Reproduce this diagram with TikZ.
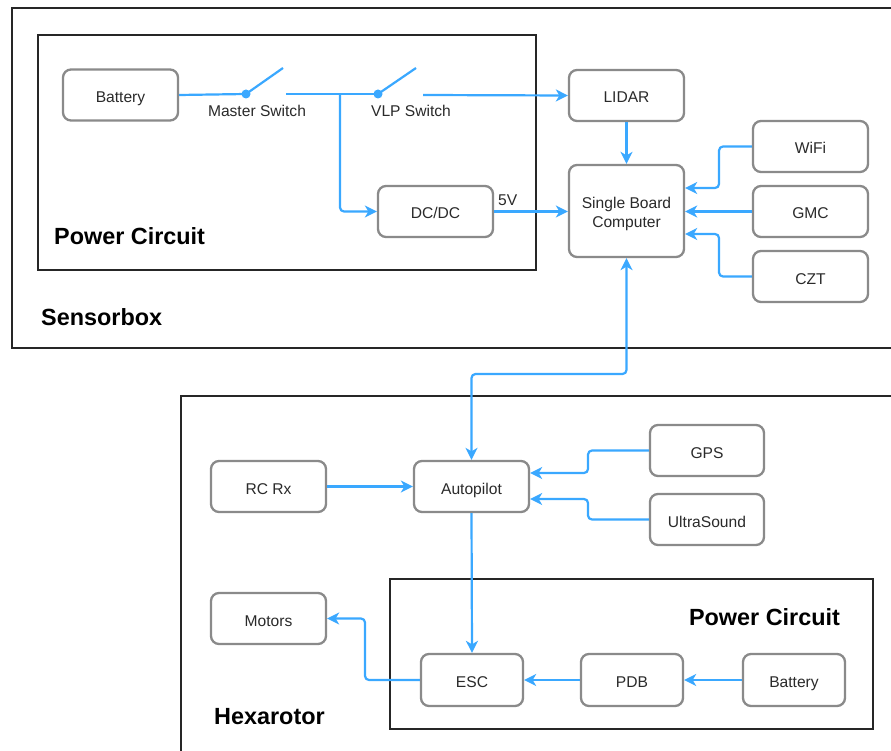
\documentclass[tikz,border=0pt]{standalone}
\usepackage{fontspec}
\setmainfont{Liberation Sans}
\usetikzlibrary{arrows.meta}
\definecolor{wire}{HTML}{3AA8FF}
\definecolor{boxedge}{HTML}{8A8A8A}
\definecolor{txt}{HTML}{2A2A2A}
\begin{document}
\begin{tikzpicture}[x=1pt,y=-1pt,
  box/.style={draw=boxedge,line width=2.3pt,rounded corners=8pt,fill=white,
    minimum width=115pt,minimum height=51pt,inner sep=0pt,align=center,
    font=\fontsize{15.6}{19}\selectfont,text=txt,text height=15pt,text depth=0pt},
  twoline/.style={text height=,text depth=},
  container/.style={draw=black!85,line width=1.3pt},
  title/.style={font=\fontsize{23.4}{26}\selectfont\bfseries,anchor=west,inner sep=0pt,text=black},
  lbl/.style={font=\fontsize{15.6}{19}\selectfont,text=txt,inner sep=0pt},
  wirestyle/.style={draw=wire,line width=2.2pt,rounded corners=4pt},
  arr/.style={wirestyle,-{Stealth[length=12pt,width=12pt,inset=3.5pt]}},
  biarr/.style={wirestyle,{Stealth[length=12pt,width=12pt,inset=3.5pt]}-{Stealth[length=12pt,width=12pt,inset=3.5pt]}}
]
\useasboundingbox (0,0) rectangle (891,751);
\clip (0,0) rectangle (891,751);
\fill[white] (0,0) rectangle (891,751);

% containers
\draw[container] (12,8) rectangle (905,348);
\draw[container] (38,35) rectangle (536,270);
\draw[container] (181,396) rectangle (905,770);
\draw[container] (390,579) rectangle (873,729);

\node[title] (tsb) at (41,317) {Sensorbox};
\node[title] (tpc1) at (54,236) {Power Circuit};
\node[title] (thx) at (214,717) {Hexarotor};
\node[title,anchor=center] (tpc2) at (764.5,617) {Power Circuit};

% sensorbox nodes
\node[box] (bat1) at (120.5,95) {Battery};
\node[box] (lidar) at (626.5,95.5) {LIDAR};
\node[box] (dcdc) at (435.5,211.5) {DC/DC};
\node[box,twoline,minimum height=92pt] (sbc) at (626.5,211) {\rule{0pt}{17.5pt}Single Board\\Computer};
\node[box] (wifi) at (810.5,146.5) {WiFi};
\node[box] (gmc) at (810.5,211.5) {GMC};
\node[box] (czt) at (810.5,276.5) {CZT};

% switches
\coordinate (msa) at (246,94);
\coordinate (msb) at (283,68);
\coordinate (msc) at (286,94);
\coordinate (jn) at (340,94);
\coordinate (vpa) at (378,94);
\coordinate (vpb) at (416,68);
\coordinate (vpc) at (423,95);
\node[lbl] (mslbl) at (257,111) {Master Switch};
\node[lbl] (vplbl) at (411,111) {VLP Switch};

\draw[wirestyle] (bat1.east) -- (msa);
\draw[wirestyle] (msa) -- (msb);
\fill[wire] (msa) circle (4.5pt);
\draw[wirestyle] (msc) -- (vpa);
\draw[wirestyle] (vpa) -- (vpb);
\fill[wire] (vpa) circle (4.5pt);
\draw[arr] (vpc) -- (lidar.west);
\draw[arr] (jn) |- (dcdc.west);
\draw[arr] (dcdc.east) -- (sbc.west |- dcdc.east);
\node[lbl,anchor=west] (v5) at (498,200) {5V};
\draw[arr] (lidar.south) -- (sbc.north);
\draw[arr] (wifi.west) -- (719,146.5) |- (sbc.east |- 0,188);
\draw[arr] (gmc.west) -- (sbc.east |- gmc.west);
\draw[arr] (czt.west) -- (719,276.5) |- (sbc.east |- 0,234);

% hexarotor nodes
\node[box] (rc) at (268.5,486.5) {RC Rx};
\node[box] (ap) at (471.5,486.5) {Autopilot};
\node[box,minimum width=114pt] (gps) at (707,450.5) {GPS};
\node[box,minimum width=114pt] (us) at (707,519.5) {UltraSound};
\node[box] (mot) at (268.5,618.5) {Motors};
\node[box,minimum width=102pt,minimum height=52pt] (esc) at (472,680) {ESC};
\node[box,minimum width=102pt,minimum height=52pt] (pdb) at (632,680) {PDB};
\node[box,minimum width=102pt,minimum height=52pt] (bat2) at (794,680) {Battery};

\draw[biarr] (sbc.south) -- (626.5,374) -| (ap.north);
\draw[arr] (rc.east) -- (ap.west);
\draw[arr] (gps.west) -- (588,450.5) |- (ap.east |- 0,473);
\draw[arr] (us.west) -- (588,519.5) |- (ap.east |- 0,499);
\draw[arr] (ap.south) -- (esc.north);
\draw[arr] (bat2.west) -- (pdb.east);
\draw[arr] (pdb.west) -- (esc.east);
\draw[arr] (esc.west) -- (365,680) |- (mot.east);
\end{tikzpicture}
\end{document}
